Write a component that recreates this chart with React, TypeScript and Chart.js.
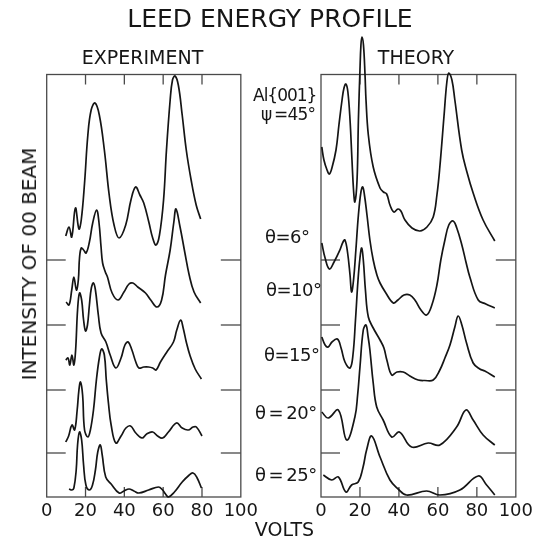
import React, { useEffect, useRef } from "react";
import { Chart, registerables } from "chart.js";
Chart.register(...registerables);

// ---------- axis / frame values ----------
const xTicks = [0, 20, 40, 60, 80, 100];
const frameTop = 422.5; // top of the frame, in intensity units above the bottom
const separators = [237, 172, 107, 44];
const yMax = 467;

// ---------- EXPERIMENT (volts, intensity) ----------
const expOffsets = [247, 187, 117, 52, 0];
const exp1V = [9.8, 11.5, 12.9, 14.8, 16.6, 17.8, 19.5, 21.2, 22.9, 24.9, 27.1, 29.7, 32.2, 34.7, 37.3, 40.7, 43.4, 45.8, 48, 50, 52.6, 54.6, 56.3, 58.1, 60.2, 61.7, 63.6, 64.8, 66.1, 67.8, 69.8, 71.9, 74.4, 77, 79.3];
const exp1I = [14, 23, 13, 42, 21, 30, 67, 115, 140, 147, 135, 100, 55, 25, 12, 25, 50, 63, 55, 47, 28, 12, 5, 15, 50, 100, 150, 170, 174, 165, 135, 100, 70, 45, 31];
const exp2V = [10, 11.5, 12.9, 14, 15.3, 16.3, 16.9, 17.8, 19, 20.3, 22, 23.7, 25.7, 26.9, 28, 28.8, 30.2, 31.3, 33.7, 36.8, 39.8, 42.4, 44.4, 46.9, 50.9, 53.6, 56.8, 59.2, 61.2, 63.6, 65.5, 66.6, 68.7, 71.2, 73.4, 75.9, 79.3];
const exp2I = [8, 5, 20, 33, 20, 30, 52, 62, 60, 57, 68, 87, 100, 88, 63, 47, 38, 33, 17, 10, 18, 26, 27, 23, 17, 10, 3, 10, 35, 60, 88, 101, 83, 57, 35, 18, 7];
const exp3V = [9.8, 11, 11.9, 13, 14, 14.9, 15.9, 16.9, 18, 19, 20, 21, 22, 23, 24.1, 25.1, 26.6, 28, 30.5, 32.7, 35.6, 38.3, 40.3, 42, 43.9, 45.9, 47.5, 50, 52.5, 54.6, 56.3, 58.6, 61.9, 65.3, 67, 69, 70.3, 71.9, 73.9, 76.5, 79.7];
const exp3I = [20, 22, 15, 25, 15, 30, 70, 87, 80, 60, 49, 55, 75, 92, 97, 90, 65, 47, 38, 25, 12, 22, 35, 38, 30, 18, 12, 13, 13, 12, 10, 18, 28, 38, 50, 60, 52, 38, 24, 11, 1];
const exp4V = [9.8, 11.3, 13, 14.4, 15.7, 16.6, 17.4, 18.5, 19.5, 21.2, 22.5, 24.1, 25.6, 27.1, 28.3, 29.7, 30.7, 31.8, 33.2, 35.6, 38.3, 40.8, 43.2, 45.9, 49.1, 51.5, 54.6, 57.1, 59.7, 62.7, 66.9, 69.8, 72.9, 75.4, 77.1, 80];
const exp4I = [3, 9, 20, 15, 35, 55, 63, 50, 15, 8, 15, 35, 65, 87, 96, 90, 65, 42, 20, 2, 9, 17, 19, 12, 7, 11, 13, 9, 7, 13, 22, 17, 15, 18, 18, 9];
const exp5V = [11.5, 13, 14, 15.2, 15.9, 16.9, 18, 19, 20.2, 22, 23.6, 25.1, 26.3, 27.6, 28.6, 30.4, 33.2, 37.3, 39.8, 42.4, 44.9, 47.5, 52.5, 57.6, 59.7, 61.2, 62.7, 65.8, 69.8, 72.9, 75.4, 77.5, 79.7];
const exp5I = [8, 7, 9, 27, 52, 65, 57, 32, 12, 7, 12, 27, 45, 52, 42, 20, 13, 4, 6, 8, 6, 4, 7, 10, 7, 3, 0, 5, 15, 21, 24, 19, 9];

// ---------- THEORY (volts, intensity) ----------
const thOffsets = [252, 177, 112, 47, 0];
const th1V = [0.4, 1.5, 3.1, 4.3, 5.6, 7.7, 9.2, 10.8, 11.8, 12.8, 13.8, 14.9, 15.9, 16.7, 17.4, 18.5, 19.2, 20, 20.5, 21, 21.8, 22.6, 23.1, 24.3, 26.8, 30.3, 32, 33.7, 35.4, 37.4, 39.5, 41, 43.1, 46.7, 50.8, 54.4, 57.6, 59.5, 61, 63.1, 64.6, 65.6, 67.2, 68.7, 72.2, 74.9, 78.1, 83.2, 89.2];
const th1I = [98, 85, 75, 71, 77, 95, 120, 145, 157, 161, 153, 125, 85, 55, 43, 65, 125, 175, 200, 208, 200, 170, 145, 110, 78, 57, 53, 51, 40, 33, 36, 34, 25, 17, 14, 18, 28, 50, 78, 128, 163, 172, 165, 145, 95, 73, 52, 25, 4];
const th2V = [0.4, 2.1, 4.3, 6.7, 9.7, 11.3, 12.3, 13.6, 14.9, 15.7, 16.7, 17.9, 19.2, 20.5, 21.4, 22.3, 23.6, 25.1, 26.8, 28.7, 30.3, 33.3, 37.1, 39.5, 42.6, 45.6, 48.2, 51.3, 54.2, 56.9, 59.5, 61.5, 63.6, 65.6, 67.8, 69.7, 72.3, 74.4, 76.4, 80.7, 84.6, 89.2];
const th2I = [77, 62, 51, 58, 70, 78, 80, 68, 45, 28, 40, 70, 105, 128, 133, 125, 105, 80, 60, 45, 37, 27, 17, 20, 25, 25, 20, 10, 5, 15, 35, 60, 80, 95, 99, 92, 75, 58, 43, 20, 16, 12];
const th3V = [0.4, 2.1, 3.7, 5.6, 8.4, 10.3, 12.3, 14.9, 16.4, 17.7, 19, 20, 20.9, 21.8, 22.8, 24.3, 26.8, 30.3, 32.3, 33.8, 36.3, 39, 42.2, 45.6, 49.9, 53.3, 57.6, 61, 63.6, 66.2, 68.7, 70.4, 72.3, 74.7, 78.1, 81.5, 84.1, 89.2];
const th3I = [48, 40, 38, 43, 46, 37, 23, 17, 30, 65, 105, 127, 137, 123, 95, 68, 57, 45, 37, 25, 10, 13, 13, 9, 5, 4.5, 5, 15, 27, 40, 58, 69, 60, 42, 22, 16, 14, 8];
const th4V = [0.4, 3.7, 8.9, 13.2, 17.4, 18.8, 20, 21.7, 23.1, 24.2, 25.1, 26.8, 28.6, 31.9, 36.3, 40.2, 46.5, 55, 61, 69.6, 74.4, 78.1, 83.2, 89.2];
const th4I = [38, 32, 40, 10, 33, 55, 83, 120, 125, 113, 100, 67, 43, 30, 13, 18, 3, 7, 5, 23, 40, 30, 15, 5];
const th5V = [1.2, 5.5, 8.9, 12.8, 15.7, 19.1, 21.6, 23.4, 26, 30.3, 35.4, 39.6, 43.9, 54.2, 61, 71.3, 80.7, 85, 89.2];
const th5I = [22, 17, 20, 5, 12, 15, 30, 47, 61, 40, 17, 8, 2, 6, 2, 7, 21, 12, 2];

const expCurves = [
  [exp1V, exp1I],
  [exp2V, exp2I],
  [exp3V, exp3I],
  [exp4V, exp4I],
  [exp5V, exp5I],
];
const thCurves = [
  [th1V, th1I],
  [th2V, th2I],
  [th3V, th3I],
  [th4V, th4I],
  [th5V, th5I],
];

function buildDatasets(curves: number[][][], offsets: number[]) {
  return curves.map(([v, inten], k) => ({
    label: "curve" + k,
    data: v.map((x, i) => ({ x, y: offsets[k] + inten[i] })),
    borderColor: "#151515",
    borderWidth: 1.7,
    pointRadius: 0,
    tension: 0.4,
    fill: false,
    clip: false as any,
  }));
}

const FONT = "'DejaVu Sans', 'Liberation Sans', sans-serif";

const framePlugin = {
  id: "frame",
  beforeDatasetsDraw(chart: any) {
    const { ctx, scales } = chart;
    const x = scales.x;
    const y = scales.y;
    const l = x.getPixelForValue(xTicks[0]);
    const r = x.getPixelForValue(xTicks[xTicks.length - 1]);
    const t = y.getPixelForValue(frameTop);
    const b = y.getPixelForValue(0);
    ctx.save();
    ctx.strokeStyle = "#4a4a4a";
    ctx.lineWidth = 1.3;
    ctx.strokeRect(l, t, r - l, b - t);
    const line = (x1: number, y1: number, x2: number, y2: number) => {
      ctx.beginPath();
      ctx.moveTo(x1, y1);
      ctx.lineTo(x2, y2);
      ctx.stroke();
    };
    for (const v of xTicks.slice(1, -1)) {
      const px = x.getPixelForValue(v);
      line(px, b, px, b - 10);
      line(px, t, px, t + 10);
    }
    for (const s of separators) {
      const py = y.getPixelForValue(s);
      line(l, py, l + 19, py);
      line(r, py, r - 20, py);
    }
    ctx.restore();
  },
};

function Panel(props: { left: number; width: number; padLeft: number; padRight: number; datasets: any[] }) {
  const ref = useRef<HTMLCanvasElement>(null);
  useEffect(() => {
    const chart = new Chart(ref.current as HTMLCanvasElement, {
      type: "line",
      data: { datasets: props.datasets },
      options: {
        animation: false,
        responsive: false,
        layout: { padding: { left: props.padLeft, right: props.padRight, top: 30, bottom: 0 } },
        plugins: { legend: { display: false }, tooltip: { enabled: false }, title: { display: false } },
        scales: {
          x: {
            type: "linear",
            min: 0,
            max: 100,
            afterBuildTicks: (s: any) => {
              s.ticks = xTicks.map((v) => ({ value: v }));
            },
            afterFit: (s: any) => {
              s.height = 43;
            },
            grid: { display: false, drawTicks: false },
            border: { display: false },
            ticks: {
              autoSkip: false,
              maxRotation: 0,
              padding: 4,
              color: "#161616",
              font: { family: FONT, size: 18 },
            },
          },
          y: { display: false, min: 0, max: yMax },
        },
      } as any,
      plugins: [framePlugin],
    });
    return () => chart.destroy();
  }, []);
  return (
    <canvas
      ref={ref}
      width={props.width}
      height={540}
      style={{ position: "absolute", left: props.left, top: 0, width: props.width, height: 540 }}
    />
  );
}

function Label(props: {
  x: number;
  y: number;
  size: number;
  text: string;
  center?: boolean;
  rotate?: boolean;
  spacing?: number;
}) {
  const style: React.CSSProperties = {
    position: "absolute",
    left: props.x,
    top: props.y,
    fontFamily: FONT,
    fontSize: props.size,
    lineHeight: 1,
    whiteSpace: "nowrap",
    color: "#161616",
    letterSpacing: props.spacing ?? 0,
    zIndex: 2,
  };
  if (props.rotate) {
    style.transform = "translate(-50%, -50%) rotate(-90deg)";
  } else if (props.center) {
    style.transform = "translate(-50%, -50%)";
  } else {
    style.transform = "translateY(-50%)";
  }
  return <div style={style}>{props.text}</div>;
}

const TS = "\u2009"; // thin space

export default function App() {
  const expSets = buildDatasets(expCurves, expOffsets);
  const thSets = buildDatasets(thCurves, thOffsets);
  return (
    <div style={{ position: "absolute", left: 0, top: 0, width: 537, height: 540, background: "#fff", overflow: "hidden" }}>
      <Panel left={0} width={262} padLeft={46.7} padRight={18.7} datasets={expSets} />
      <Panel left={262} width={275} padLeft={59} padRight={21} datasets={thSets} />
      <Label x={270} y={18} size={25} text="LEED ENERGY PROFILE" center />
      <Label x={142.5} y={56.5} size={19} text="EXPERIMENT" center />
      <Label x={416} y={57} size={19} text="THEORY" center />
      <Label x={284.5} y={529} size={19} text="VOLTS" center />
      <Label x={29} y={264} size={20} text="INTENSITY OF 00 BEAM" rotate />
      <Label x={253} y={95} size={17} spacing={-1} text="Al{001}" />
      <Label x={261} y={114} size={17} spacing={-0.8} text={"ψ" + TS + "=45°"} />
      <Label x={265} y={237} size={18} spacing={-0.5} text="θ=6°" />
      <Label x={266} y={289.5} size={18} spacing={-0.5} text="θ=10°" />
      <Label x={264} y={354.5} size={18} spacing={-0.5} text="θ=15°" />
      <Label x={255} y={413} size={18} spacing={-0.5} text={"θ" + TS + "=" + TS + "20°"} />
      <Label x={255} y={474.5} size={18} spacing={-0.5} text={"θ" + TS + "=" + TS + "25°"} />
    </div>
  );
}
